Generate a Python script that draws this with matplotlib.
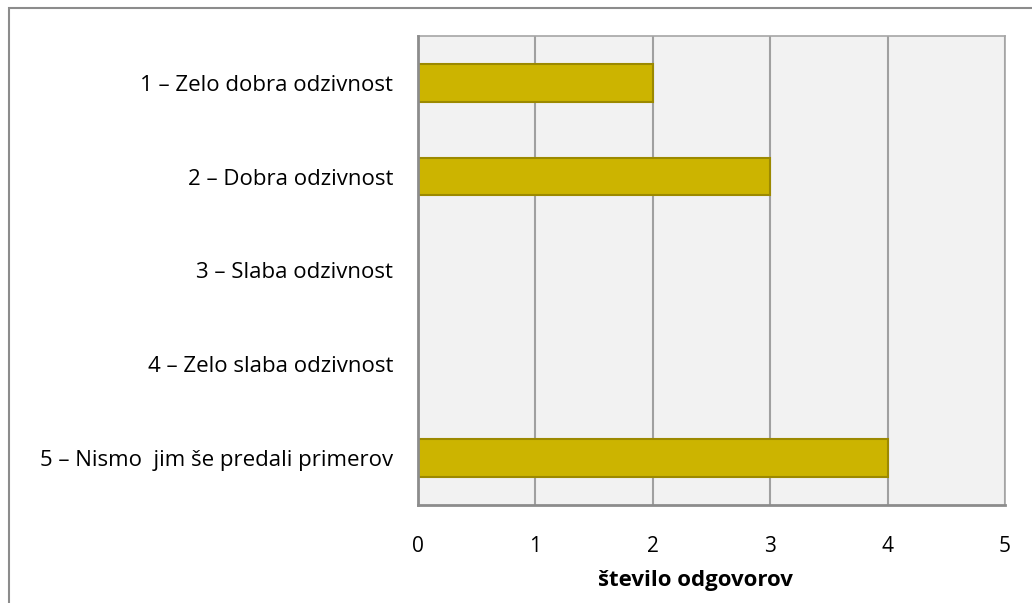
import matplotlib.pyplot as plt
from matplotlib.patches import Rectangle

kategorije = ["1 – Zelo dobra odzivnost", "2 – Dobra odzivnost", "3 – Slaba odzivnost",
              "4 – Zelo slaba odzivnost", "5 – Nismo  jim še predali primerov"]
odgovori = [2, 3, 0, 0, 4]
x_ticks = [0, 1, 2, 3, 4, 5]

plt.rcParams['font.family'] = ['Open Sans', 'DejaVu Sans']

fig = plt.figure(figsize=(10.32, 6.03), dpi=100)
ax = fig.add_axes([418/1032, 1 - 505/603, (1005-418)/1032, (505-36)/603])

# okvir grafa
fig.patches.append(Rectangle((9/1032, -0.1), 1.2, 1 - 8/603 + 0.1, transform=fig.transFigure,
                             fill=False, edgecolor="#8c8c8c", linewidth=1.5))

ax.set_facecolor("#f2f2f2")
pos = range(len(kategorije))
ax.barh(pos, odgovori, height=0.4, color="#ccb400", edgecolor="#9c8900", linewidth=1.5, zorder=3)
ax.set_yticks(list(pos))
ax.set_yticklabels(kategorije, fontsize=16)
ax.set_ylim(len(kategorije) - 0.5, -0.5)
ax.set_xlim(0, 5)
ax.set_xticks(x_ticks)
ax.set_xticklabels([str(t) for t in x_ticks], fontsize=15)
ax.tick_params(axis='y', length=0, pad=18)
ax.tick_params(axis='x', length=0, pad=22)
ax.grid(axis='x', color="#a0a0a0", linewidth=1.5, zorder=1)
ax.set_axisbelow(True)
for s in ["top", "right"]:
    ax.spines[s].set_color("#a6a6a6")
    ax.spines[s].set_linewidth(1.2)
for s in ["left", "bottom"]:
    ax.spines[s].set_color("#8c8c8c")
    ax.spines[s].set_linewidth(2)
    ax.spines[s].set_zorder(5)
ax.set_xlabel("število odgovorov", fontsize=16, fontweight="bold")
ax.xaxis.set_label_coords(0.472, -0.138)

fig.savefig("out.png", dpi=100)
